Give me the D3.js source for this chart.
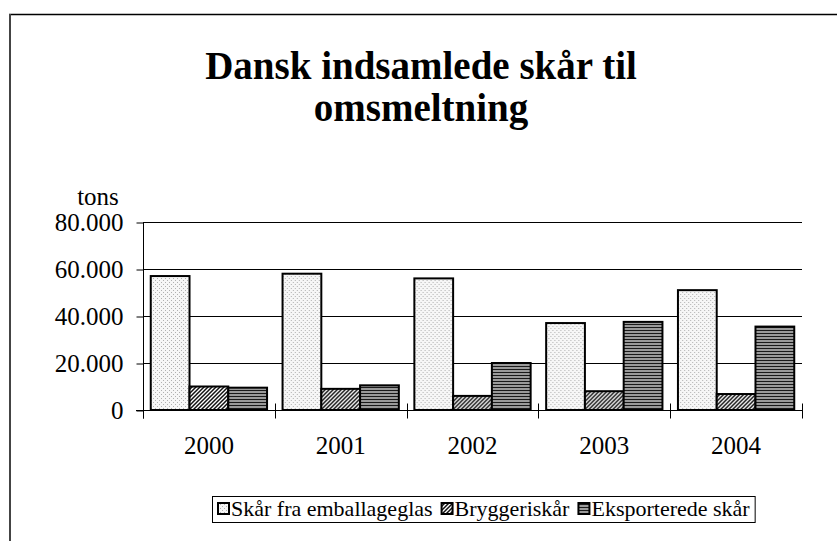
<!DOCTYPE html>
<html>
<head>
<meta charset="utf-8">
<title>Dansk indsamlede skår til omsmeltning</title>
<script src="https://cdn.jsdelivr.net/npm/d3@7"></script>
<style>
body { margin: 0; background: #fff; }
svg { display: block; }
</style>
</head>
<body>
<svg id="chart" width="837" height="541"></svg>
<script>
// data
var years = ["2000", "2001", "2002", "2003", "2004"];
var seriesNames = ["Skår fra emballageglas", "Bryggeriskår", "Eksporterede skår"];
var emballage = [57000, 58000, 56000, 37000, 51000];
var bryggeri = [10000, 9000, 6000, 8000, 6800];
var eksport = [9500, 10500, 20000, 37500, 35500];
var yTicks = [0, 20000, 40000, 60000, 80000];
var titleLines = ["Dansk indsamlede skår til", "omsmeltning"];

var FONT = "'Liberation Serif'";
var svg = d3.select("#chart");

// patterns, one per series
var defs = svg.append("defs");
var p0 = defs.append("pattern").attr("id", "pat0").attr("patternUnits", "userSpaceOnUse")
    .attr("width", 4).attr("height", 4);
p0.append("rect").attr("width", 4).attr("height", 4).attr("fill", "#f6f6f6");
p0.append("rect").attr("x", 0).attr("y", 0).attr("width", 1).attr("height", 1).attr("fill", "#b0b0b0");
p0.append("rect").attr("x", 2).attr("y", 2).attr("width", 1).attr("height", 1).attr("fill", "#b0b0b0");

var p1 = defs.append("pattern").attr("id", "pat1").attr("patternUnits", "userSpaceOnUse")
    .attr("width", 4).attr("height", 4);
p1.append("rect").attr("width", 4).attr("height", 4).attr("fill", "#fff");
p1.append("path").attr("d", "M-1,1 L1,-1 M0,4 L4,0 M3,5 L5,3")
    .attr("stroke", "#111").attr("stroke-width", 1.5);

var p2 = defs.append("pattern").attr("id", "pat2").attr("patternUnits", "userSpaceOnUse")
    .attr("width", 3).attr("height", 3);
p2.append("rect").attr("width", 3).attr("height", 3).attr("fill", "#9a9a9a");
p2.append("rect").attr("y", 0).attr("width", 3).attr("height", 1).attr("fill", "#1a1a1a");

var fills = ["url(#pat0)", "url(#pat1)", "url(#pat2)"];
var values = [emballage, bryggeri, eksport];

// outer frame (only top and left edges show)
svg.append("line").attr("x1", 9).attr("x2", 837).attr("y1", 14.5).attr("y2", 14.5)
    .attr("stroke", "#000").attr("stroke-width", 1.5);
svg.append("line").attr("x1", 10).attr("x2", 10).attr("y1", 14).attr("y2", 541)
    .attr("stroke", "#444").attr("stroke-width", 2);

// title
svg.append("g").selectAll("text").data(titleLines).enter().append("text")
    .attr("x", 421).attr("y", function(d, i) { return 79 + i * 42; })
    .attr("text-anchor", "middle")
    .style("font-family", FONT)
    .style("font-size", "39px").style("font-weight", "bold")
    .text(function(d) { return d; });

// scales
var x = d3.scaleBand().domain(years).range([143, 802]);
var xs = d3.scaleBand().domain(d3.range(3)).range([0, x.bandwidth()]).paddingOuter(0.2);
var y = d3.scaleLinear().domain([0, 80000]).range([410, 222]);

// gridlines
svg.append("g").selectAll("line").data(yTicks.slice(1)).enter().append("line")
    .attr("x1", 143).attr("x2", 802)
    .attr("y1", function(d) { return Math.round(y(d)) + 0.5; })
    .attr("y2", function(d) { return Math.round(y(d)) + 0.5; })
    .attr("stroke", "#000").attr("stroke-width", 1);

// y axis
var yAxis = d3.axisLeft(y).tickValues(yTicks).tickSize(7).tickPadding(13)
    .tickFormat(function(d) { return d3.format(",")(d).replace(/,/g, "."); });
var gy = svg.append("g").attr("transform", "translate(143.5,0.5)").call(yAxis);
gy.select(".domain").remove();
gy.append("line").attr("x1", 0).attr("x2", 0).attr("y1", y(80000)).attr("y2", y(0) + 8)
    .attr("stroke", "#000");
gy.selectAll("text").attr("fill", "#000")
    .style("font-family", FONT).style("font-size", "25px");
gy.selectAll(".tick line").attr("stroke", "#000");

svg.append("text").attr("x", 98).attr("y", 205).attr("text-anchor", "middle")
    .style("font-family", FONT).style("font-size", "25px").text("tons");

// bars
var groups = svg.append("g").selectAll("g").data(years).enter().append("g")
    .attr("transform", function(d) { return "translate(" + x(d) + ",0)"; });
groups.selectAll("rect").data(function(d, i) {
        return values.map(function(v, s) { return {s: s, v: v[i]}; });
    }).enter().append("rect")
    .attr("x", function(d) { return xs(d.s); })
    .attr("y", function(d) { return y(d.v); })
    .attr("width", xs.bandwidth())
    .attr("height", function(d) { return y(0) - y(d.v); })
    .attr("fill", function(d) { return fills[d.s]; })
    .attr("stroke", "#000").attr("stroke-width", 2);

// x axis
var xAxis = d3.axisBottom(x).tickSize(0).tickPadding(26);
var gx = svg.append("g").attr("transform", "translate(0," + (y(0) + 0.5) + ")").call(xAxis);
gx.select(".domain").attr("d", "M136,0H802").attr("stroke", "#000");
gx.selectAll("text").attr("fill", "#000")
    .style("font-family", FONT).style("font-size", "25px");
gx.selectAll(".sep").data(years.concat(["end"])).enter().append("line").attr("class", "sep")
    .attr("x1", function(d, i) { return Math.round(i < years.length ? x(d) : 802) + 0.5; })
    .attr("x2", function(d, i) { return Math.round(i < years.length ? x(d) : 802) + 0.5; })
    .attr("y1", -7).attr("y2", 8).attr("stroke", "#000");

// legend
var legend = svg.append("g");
var box = legend.append("rect").attr("fill", "#fff").attr("stroke", "#000").attr("stroke-width", 1);
var lx = 218;
seriesNames.forEach(function(name, s) {
    legend.append("rect").attr("x", lx).attr("y", 503).attr("width", 11).attr("height", 11)
        .attr("fill", fills[s]).attr("stroke", "#000").attr("stroke-width", 2);
    var t = legend.append("text").attr("x", lx + 13).attr("y", 516)
        .style("font-family", FONT).style("font-size", "22px").text(name);
    lx += 13 + t.node().getComputedTextLength() + 9;
});
box.attr("x", 212.5).attr("y", 496.5).attr("width", lx - 9 + 5 - 212).attr("height", 26);
</script>
</body>
</html>
